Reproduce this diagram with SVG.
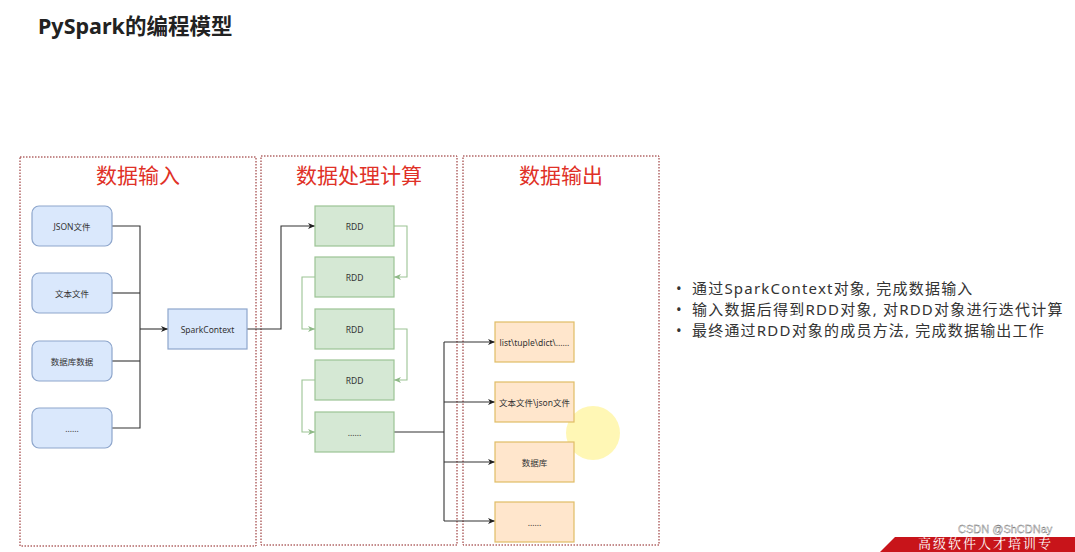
<svg xmlns="http://www.w3.org/2000/svg" width="1075" height="552" viewBox="0 0 1075 552">
<style>
.cjk{font-family:"Noto Sans","Noto Sans CJK SC",sans-serif}
.title{font-size:21.5px;font-weight:bold;fill:#222}
.area{fill:none;stroke:#8b1a1a;stroke-width:1;stroke-dasharray:1.5 1.5}
.hdr{font-size:21px;fill:#e03127;text-anchor:middle}
.blue{fill:#dae8fc;stroke:#8ea6cc;stroke-width:1.2}
.green{fill:#d5e8d4;stroke:#9cc394;stroke-width:1.2}
.orange{fill:#ffe6cc;stroke:#e0bd65;stroke-width:1.2}
.lbl{font-size:8.5px;fill:#333;text-anchor:middle;dominant-baseline:central}
.ln{fill:none;stroke:#333;stroke-width:1.1}
.gl{fill:none;stroke:#9cc394;stroke-width:1.1}
.bul{font-size:15px;fill:#333;letter-spacing:1.2px}
</style>
<defs>
<marker id="ab" markerWidth="8" markerHeight="8" refX="7" refY="4" orient="auto" markerUnits="userSpaceOnUse"><path d="M0,1 L7,4 L0,7 L2,4 Z" fill="#222"/></marker>
<marker id="ag" markerWidth="8" markerHeight="8" refX="7" refY="4" orient="auto" markerUnits="userSpaceOnUse"><path d="M0,1 L7,4 L0,7 L2,4 Z" fill="#8fb987"/></marker>
</defs>
<rect width="1075" height="552" fill="#fff"/>
<text class="cjk title" x="38" y="34">PySpark的编程模型</text>

<g id="area-input"><rect class="area" x="20" y="157" width="236" height="389"/><text class="cjk hdr" x="138" y="183">数据输入</text></g>
<g id="area-process"><rect class="area" x="261" y="156" width="196" height="389"/><text class="cjk hdr" x="359" y="183">数据处理计算</text></g>
<g id="area-output"><rect class="area" x="463" y="156" width="196" height="389"/><text class="cjk hdr" x="561" y="183">数据输出</text></g>

<g id="highlight"><circle cx="593" cy="433" r="27" fill="#fff6a8" opacity="0.85"/></g>

<g id="connectors">
<path class="ln" d="M112,226 H140 V428 H112"/>
<path class="ln" d="M112,293 H140"/>
<path class="ln" d="M112,361 H140"/>
<path class="ln" d="M140,329 H168" marker-end="url(#ab)"/>
<path class="ln" d="M247,329 H281 V226 H315" marker-end="url(#ab)"/>
<path class="gl" d="M394,226 H407 V277 H394" marker-end="url(#ag)"/>
<path class="gl" d="M315,277 H302 V329 H315" marker-end="url(#ag)"/>
<path class="gl" d="M394,329 H407 V380 H394" marker-end="url(#ag)"/>
<path class="gl" d="M315,380 H302 V432 H315" marker-end="url(#ag)"/>
<path class="ln" d="M394,432 H444"/>
<path class="ln" d="M444,342 V521"/>
<path class="ln" d="M444,342 H495" marker-end="url(#ab)"/>
<path class="ln" d="M444,402 H495" marker-end="url(#ab)"/>
<path class="ln" d="M444,462 H495" marker-end="url(#ab)"/>
<path class="ln" d="M444,521 H495" marker-end="url(#ab)"/>
</g>

<g id="in-json"><rect class="blue" x="32" y="206" width="80" height="40" rx="7"/><text class="cjk lbl" x="72" y="226">JSON文件</text></g>
<g id="in-text"><rect class="blue" x="32" y="273" width="80" height="40" rx="7"/><text class="cjk lbl" x="72" y="293">文本文件</text></g>
<g id="in-db"><rect class="blue" x="32" y="341" width="80" height="40" rx="7"/><text class="cjk lbl" x="72" y="361">数据库数据</text></g>
<g id="in-more"><rect class="blue" x="32" y="408" width="80" height="40" rx="7"/><text class="cjk lbl" x="72" y="428">......</text></g>
<g id="spark"><rect class="blue" x="168" y="309" width="79" height="40"/><text class="cjk lbl" x="207.5" y="329">SparkContext</text></g>

<g id="rdd1"><rect class="green" x="315" y="206" width="79" height="40"/><text class="cjk lbl" x="354.5" y="226">RDD</text></g>
<g id="rdd2"><rect class="green" x="315" y="257" width="79" height="40"/><text class="cjk lbl" x="354.5" y="277">RDD</text></g>
<g id="rdd3"><rect class="green" x="315" y="309" width="79" height="40"/><text class="cjk lbl" x="354.5" y="329">RDD</text></g>
<g id="rdd4"><rect class="green" x="315" y="360" width="79" height="40"/><text class="cjk lbl" x="354.5" y="380">RDD</text></g>
<g id="rdd5"><rect class="green" x="315" y="412" width="79" height="40"/><text class="cjk lbl" x="354.5" y="432">......</text></g>

<g id="out-list"><rect class="orange" x="495" y="322" width="79" height="40"/><text class="cjk lbl" x="534.5" y="342">list\tuple\dict\......</text></g>
<g id="out-file"><rect class="orange" x="495" y="382" width="79" height="40"/><text class="cjk lbl" x="534.5" y="402">文本文件\json文件</text></g>
<g id="out-db"><rect class="orange" x="495" y="442" width="79" height="40"/><text class="cjk lbl" x="534.5" y="462">数据库</text></g>
<g id="out-more"><rect class="orange" x="495" y="502" width="79" height="40"/><text class="cjk lbl" x="534.5" y="522">......</text></g>

<g id="notes" class="cjk bul">
<text x="676" y="294">•</text><text x="692" y="294">通过SparkContext对象, 完成数据输入</text>
<text x="676" y="315">•</text><text x="692" y="315">输入数据后得到RDD对象, 对RDD对象进行迭代计算</text>
<text x="676" y="336">•</text><text x="692" y="336">最终通过RDD对象的成员方法, 完成数据输出工作</text>
</g>

<g id="banner">
<polygon points="880,552 895,537 1075,537 1075,552" fill="#c8141a"/>
<text x="918" y="548" font-size="13" fill="#fff" letter-spacing="2" font-family="'Noto Serif CJK SC','Noto Sans CJK SC',serif">高级软件人才培训专</text>
<text x="958" y="533" font-size="11" fill="#f2f2f2" stroke="#555" stroke-width="0.3" font-family="'Liberation Sans',sans-serif">CSDN @ShCDNay</text>
</g>
</svg>
